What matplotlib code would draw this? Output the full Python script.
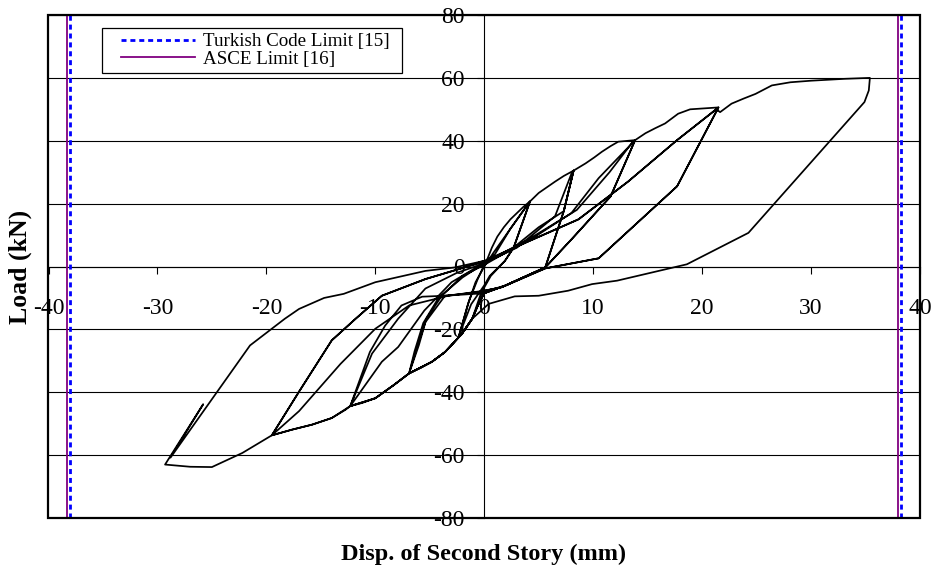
import numpy as np
import matplotlib
matplotlib.use("Agg")
import matplotlib.pyplot as plt
from matplotlib.patches import Rectangle

plt.rcParams["font.family"] = ["Liberation Serif", "DejaVu Serif"]
plt.rcParams["axes.unicode_minus"] = False

# ---- hysteresis record, one list pair per load amplitude (mm, kN) ----
c1_disp = [0, 0.3, 0.7, 1.2, 1.8, 2.4, 3.0, 3.6, 4.2,
           2.7, 1.9, 0.6, -0.3, -1.1, -2.05, -2.3,
           -1.5, -0.8, 0.0,
           0.85, 2.5, 4.2,
           2.7, 1.9, 0.5, 0.0,
           -1.2, -2.3,
           -1.4, -0.6, 0.0]
c1_load = [0, 2.5, 6, 9.5, 12.5, 15, 17, 19, 20.7,
           6, 1.8, -3, -8.5, -16.6, -21.4, -21.8,
           -12, -5, 0,
           4.4, 12.5, 20.7,
           6, 1.8, -3, -6,
           -12, -21.8,
           -11, -4, 0.5]

c2_disp = [1.0, 2.4, 4.0, 4.2, 5.0, 5.8, 6.5, 7.3, 8.2,
           7.3, 5.6, 1.9, 0.0, -0.6, -1.1, -2.05, -2.8, -3.6, -4.8, -5.8, -6.9,
           -6.2, -5.3, -3.9, -2.0, 0.0,
           2.5, 5.0, 7.3, 8.2,
           7.3, 5.6, 1.9, 0.0,
           -3.6, -5.4, -6.0, -6.9,
           -6.4, -5.6, -4.2, -2.0, 0.0]
c2_load = [4, 12, 19.8, 20.7, 23.4, 25.3, 27, 28.8, 30.5,
           17.6, -0.3, -6.1, -8.5, -12.5, -16.6, -21.4, -24.3, -27.2, -30.3, -32.2, -34.0,
           -26, -16.6, -9.3, -3, 0.5,
           5.5, 12.5, 17.6, 30.5,
           17.6, -0.3, -6.1, -8,
           -9.3, -17.7, -25, -34,
           -27, -18, -10, -3.5, 1]

c3_disp = [3.0, 6.5, 8.0, 8.2, 9.3, 10.1, 10.8, 11.6, 12.3, 13.85,
           11.6, 10.5, 8.0, 5.6, 1.9, 0.0, -0.6, -1.1, -2.05, -3.6, -4.8, -6.9,
           -8.3, -10.0, -11.2, -12.3,
           -10.3, -7.9, -5.4, -2.5, 0.0,
           4.0, 8.0, 10.5, 13.85,
           11.6, 8.0, 5.6, 1.9, 0.0,
           -3.6, -5.7, -7.6, -9.1, -10.5, -12.3,
           -9.4, -7.9, -5.5, -3.0, 0.0]
c3_load = [6, 16, 29.5, 30.5, 32.8, 34.7, 36.5, 38.3, 39.7, 40.2,
           22.3, 18.1, 8.6, -0.3, -6.1, -8.5, -12.5, -16.6, -21.4, -27.2, -30.3, -34.0,
           -37.7, -41.9, -43.4, -44.4,
           -27.7, -16.6, -7, -2, 1,
           8, 17, 28.1, 40.2,
           22.3, 8.6, -0.3, -6.1, -8.5,
           -9.3, -9.6, -12.4, -18.8, -27.2, -44.4,
           -30.3, -25.6, -14, -5, 1.2]

c4_disp = [4.0, 8.5, 11.5, 13.6, 13.85, 14.8, 15.7, 16.6, 17.8, 18.9, 21.5,
           17.7, 10.5, 5.6, 1.6, 0.0, -0.6, -1.1, -2.05, -3.6, -4.8, -6.9, -8.3,
           -10.0, -12.3, -12.75, -14.0, -15.8, -17.65, -19.5,
           -17.0, -14.0, -11.8, -9.4, -5.4, -2.5, 0.0,
           3.8, 8.65, 13.2, 17.7, 21.5,
           17.7, 10.5, 5.6, 1.6, 0.0,
           -3.3, -6.9, -10.0, -13.2, -17.0, -19.5,
           -17.0, -14.0, -11.8, -9.4, -5.4, -2.5, 0.0]
c4_load = [8.5, 18, 30, 39.5, 40.2, 42.4, 44.0, 45.5, 48.6, 50.0, 50.6,
           25.5, 2.6, -0.6, -6.6, -7.7, -12.5, -16.6, -21.4, -27.2, -30.3, -34.0, -37.7,
           -41.9, -44.4, -45.6, -48.2, -50.3, -51.9, -53.7,
           -39.8, -23.5, -16.6, -9.3, -4, -1, 1.5,
           7.6, 15, 27, 40.2, 50.6,
           25.5, 2.6, -0.6, -6.6, -7.7,
           -9.3, -12.4, -19.8, -31, -46, -53.7,
           -39.8, -23.5, -16.6, -9.3, -4, -1, 1.8]

c5_disp = [3.8, 8.65, 13.2, 17.7, 21.3, 21.65, 22.7, 23.8, 24.9, 26.4, 28.1, 30.0, 33.1, 35.4,
           35.3, 34.9, 24.25, 18.6, 12.2, 9.9, 7.7, 5.0, 2.8, 0.4,
           -1.1, -2.05, -3.6, -4.8, -6.9, -8.3, -10.0, -12.3, -14.0, -15.8, -17.65, -19.5,
           -22.2, -25.0, -27.0, -29.3,
           -25.8, -28.3,
           -28.8, -21.5, -18.3, -17.0, -14.7, -12.9, -10.0, -5.4, -2.7, 0.0]
c5_load = [7.6, 15, 27, 40.2, 50.0, 49.1, 51.8, 53.4, 54.9, 57.6, 58.6, 59.1, 59.7, 60.0,
           56.0, 52.3, 10.7, 0.7, -4.5, -5.6, -7.7, -9.3, -9.5, -11.9,
           -16.6, -21.4, -27.2, -30.3, -34.0, -37.7, -41.9, -44.4, -48.2, -50.3, -51.9, -53.7,
           -59.3, -63.8, -63.7, -63.0,
           -43.8, -58,
           -60.8, -25.1, -16.6, -13.5, -10.0, -8.7, -5.0, -1.4, -0.3, 1.8]

# drift limits (mm)
turkish_limit = [-38.05, 38.25]
asce_limit = [-38.3, 38.0]

x_ticks = [-40, -30, -20, -10, 0, 10, 20, 30, 40]
y_ticks = [-80, -60, -40, -20, 0, 20, 40, 60, 80]

disp = np.concatenate([c1_disp, c2_disp, c3_disp, c4_disp, c5_disp])
load = np.concatenate([c1_load, c2_load, c3_load, c4_load, c5_load])

W, H = 937, 579
fig = plt.figure(figsize=(W / 100, H / 100), dpi=100)
ax = fig.add_axes([48.5 / W, 1 - 518 / H, (920 - 48.5) / W, (518 - 15) / H])
ax.set_xlim(-40, 40)
ax.set_ylim(-80, 80)

# centred axes, outer frame drawn separately
ax.spines["bottom"].set_position(("data", 0))
ax.spines["left"].set_position(("data", 0))
ax.spines["top"].set_visible(False)
ax.spines["right"].set_visible(False)
for s in ("bottom", "left"):
    ax.spines[s].set_linewidth(0.8)
ax.add_patch(Rectangle((0, 0), 1, 1, transform=ax.transAxes, fill=False,
                       lw=1.6, ec="black", zorder=6, clip_on=False))

ax.set_xticks(x_ticks)
ax.set_xticklabels([str(v) for v in x_ticks])
ax.set_yticks(y_ticks)
ax.set_yticklabels([str(v) for v in y_ticks])
ax.tick_params(axis="x", direction="out", length=5, width=0.8, pad=18, labelsize=17)
ax.tick_params(axis="y", direction="out", length=5, width=0.8, pad=9, labelsize=17)
ax.yaxis.grid(True, color="black", lw=0.8)
ax.set_axisbelow(True)

# limit lines
t_lines = [ax.axvline(v, color="#0000FF", lw=2.0, ls=(0, (1.8, 1.4)), zorder=3)
           for v in turkish_limit]
a_lines = [ax.axvline(v, color="#800080", lw=1.3, zorder=3) for v in asce_limit]

ax.plot(disp, load, color="black", lw=1.25, zorder=4, solid_joinstyle="round")

# legend
leg = ax.legend([t_lines[0], a_lines[0]], ["Turkish Code Limit [15]", "ASCE Limit [16]"],
                loc="upper left", bbox_to_anchor=(121 / W, 1 - 33 / H),
                bbox_transform=fig.transFigure, frameon=False, borderpad=0,
                borderaxespad=0, handlelength=3.9, handletextpad=0.4,
                labelspacing=0.02, prop={"family": "Liberation Serif", "size": 13.7})
ax.add_patch(Rectangle((102 / W, 1 - 73 / H), 300 / W, 45 / H, transform=fig.transFigure,
                       fill=True, fc="white", ec="black", lw=0.9, zorder=5, clip_on=False))
leg.set_zorder(7)

fig.text(484 / W, 1 - 554 / H, "Disp. of Second Story (mm)", ha="center", va="center",
         fontsize=17.5, fontweight="bold")
fig.text(20 / W, 1 - 267 / H, "Load (kN)", ha="center", va="center", rotation=90,
         fontsize=18.5, fontweight="bold")

fig.savefig("out.png", dpi=100)
